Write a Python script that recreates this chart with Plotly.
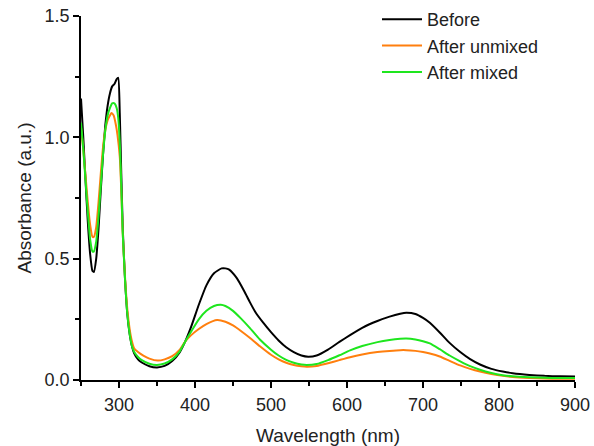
import plotly.graph_objects as go

# Wavelength (nm) and absorbance values
wl_before = [250, 253, 256, 259, 262, 265, 267, 270, 273, 276, 279, 282, 285, 288, 291, 294, 297, 299,
             301, 303, 305, 308, 311, 314, 317, 320, 325, 330, 340, 350, 360, 370, 380, 387, 395, 405,
             415, 425, 435, 440, 445, 455, 465, 472, 480, 490, 500, 510, 520, 530, 540, 549, 560, 575,
             590, 604, 620, 640, 656, 670, 678, 690, 700, 709, 722, 735, 749, 762, 775, 790, 805, 818,
             840, 860, 880, 900]
abs_before = [1.16, 1.0, 0.82, 0.65, 0.52, 0.45, 0.445, 0.50, 0.62, 0.78, 0.93, 1.05, 1.13, 1.18, 1.21,
              1.22, 1.24, 1.245, 1.10, 0.85, 0.62, 0.41, 0.27, 0.19, 0.14, 0.11, 0.085, 0.072, 0.057,
              0.052, 0.058, 0.078, 0.115, 0.158, 0.22, 0.31, 0.39, 0.44, 0.46, 0.46, 0.455, 0.42, 0.365,
              0.322, 0.277, 0.235, 0.197, 0.163, 0.135, 0.115, 0.101, 0.096, 0.101, 0.125, 0.157, 0.185,
              0.215, 0.243, 0.261, 0.273, 0.277, 0.272, 0.256, 0.236, 0.196, 0.153, 0.115, 0.086, 0.064,
              0.046, 0.035, 0.028, 0.021, 0.017, 0.015, 0.014]

wl_unmixed = [250, 253, 256, 259, 262, 265, 267, 270, 273, 276, 279, 282, 285, 288, 290, 293, 296, 298,
              301, 303, 305, 308, 311, 314, 317, 320, 325, 332, 340, 351, 360, 370, 380, 387, 395, 405,
              415, 429, 440, 450, 460, 472, 485, 500, 510, 520, 530, 540, 547, 560, 575, 590, 604, 620,
              640, 656, 670, 678, 690, 700, 709, 722, 735, 749, 762, 775, 790, 805, 818, 840, 860, 880, 900]
abs_unmixed = [1.04, 0.95, 0.84, 0.73, 0.64, 0.59, 0.59, 0.63, 0.73, 0.85, 0.96, 1.03, 1.07, 1.09, 1.10,
               1.09, 1.05, 1.01, 0.92, 0.78, 0.60, 0.42, 0.29, 0.21, 0.16, 0.13, 0.115, 0.10, 0.088, 0.08,
               0.085, 0.098, 0.125, 0.158, 0.185, 0.21, 0.23, 0.247, 0.24, 0.225, 0.203, 0.174, 0.14,
               0.104, 0.085, 0.071, 0.062, 0.057, 0.055, 0.058, 0.069, 0.082, 0.094, 0.105, 0.115, 0.12,
               0.123, 0.123, 0.12, 0.115, 0.109, 0.097, 0.079, 0.06, 0.046, 0.035, 0.025, 0.017, 0.012,
               0.008, 0.006, 0.005, 0.005]

wl_mixed = [250, 253, 256, 259, 262, 265, 267, 270, 273, 276, 279, 282, 285, 288, 291, 294, 297, 299,
            301, 303, 305, 308, 311, 314, 317, 320, 325, 330, 340, 350, 360, 370, 380, 387, 395, 405,
            415, 425, 434, 440, 450, 460, 472, 485, 500, 510, 520, 530, 540, 547, 560, 575, 590, 604,
            620, 640, 656, 670, 678, 690, 700, 709, 722, 735, 749, 762, 775, 790, 805, 818, 840, 860,
            880, 900]
abs_mixed = [1.06, 0.95, 0.82, 0.69, 0.58, 0.53, 0.53, 0.57, 0.67, 0.80, 0.93, 1.03, 1.09, 1.12, 1.14,
             1.14, 1.12, 1.08, 0.98, 0.80, 0.60, 0.41, 0.27, 0.19, 0.14, 0.115, 0.095, 0.082, 0.067,
             0.062, 0.068, 0.085, 0.118, 0.158, 0.20, 0.25, 0.285, 0.305, 0.31, 0.305, 0.285, 0.255,
             0.215, 0.168, 0.125, 0.101, 0.083, 0.071, 0.064, 0.062, 0.066, 0.082, 0.102, 0.122, 0.14,
             0.156, 0.165, 0.17, 0.171, 0.167, 0.16, 0.151, 0.127, 0.101, 0.077, 0.057, 0.042, 0.029,
             0.02, 0.015, 0.011, 0.009, 0.008, 0.008]

x_ticks = [300, 400, 500, 600, 700, 800, 900]
y_ticks = [0.0, 0.5, 1.0, 1.5]
y_tick_labels = ["0.0", "0.5", "1.0", "1.5"]

FONT = "Liberation Sans, Arial, sans-serif"

fig = go.Figure()
fig.add_trace(go.Scatter(x=wl_before, y=abs_before, mode="lines", name="Before",
                         line=dict(color="#000000", width=2, shape="spline", smoothing=0.5)))
fig.add_trace(go.Scatter(x=wl_unmixed, y=abs_unmixed, mode="lines", name="After unmixed",
                         line=dict(color="#FF7F0E", width=2, shape="spline", smoothing=0.5)))
fig.add_trace(go.Scatter(x=wl_mixed, y=abs_mixed, mode="lines", name="After mixed",
                         line=dict(color="#1EE61E", width=2, shape="spline", smoothing=0.5)))

fig.update_layout(
    width=594, height=446,
    margin=dict(l=81, r=19, t=16, b=66, autoexpand=False),
    paper_bgcolor="white", plot_bgcolor="white",
    font=dict(family=FONT, size=18, color="#222222"),
    showlegend=True,
    legend=dict(x=(377 - 81) / 494, y=1.0 - 1 / 446, yref="container", xanchor="left", yanchor="top",
                bgcolor="rgba(0,0,0,0)", font=dict(size=18, color="#222222"),
                tracegroupgap=0, itemwidth=40),
)
fig.update_xaxes(
    range=[250, 900], tickvals=x_ticks, showgrid=False, zeroline=False, automargin=False,
    showline=True, linecolor="black", linewidth=1.5, mirror=False,
    ticks="outside", ticklen=6, tickwidth=1.5, tickcolor="black",
    minor=dict(dtick=50, tick0=250, ticks="outside", ticklen=4, tickwidth=1.5, tickcolor="black", showgrid=False),
    tickfont=dict(size=18), ticklabelstandoff=2,
    title=dict(text="Wavelength (nm)", font=dict(size=19), standoff=18),
)
fig.update_yaxes(
    range=[0, 1.5], tickvals=y_ticks, ticktext=y_tick_labels, showgrid=False, zeroline=False, automargin=False,
    showline=True, linecolor="black", linewidth=1.5, mirror=False,
    ticks="outside", ticklen=6, tickwidth=1.5, tickcolor="black",
    minor=dict(dtick=0.25, tick0=0, ticks="outside", ticklen=4, tickwidth=1.5, tickcolor="black", showgrid=False),
    tickfont=dict(size=18),
    title=dict(text="Absorbance (a.u.)", font=dict(size=19), standoff=8),
)

fig.write_html("out.html")
